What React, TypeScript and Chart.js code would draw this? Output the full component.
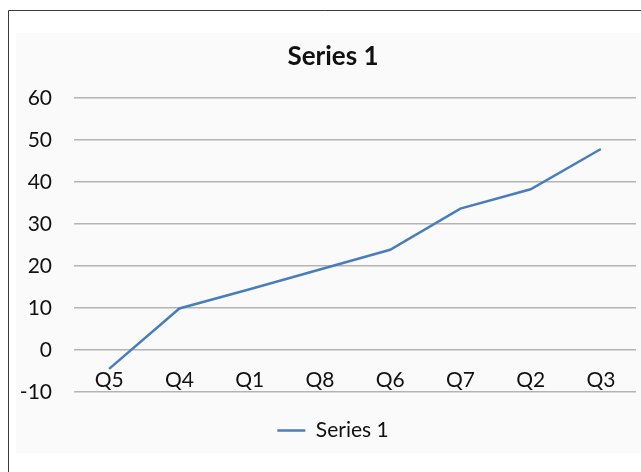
import React, { useEffect, useRef } from "react";
import { Chart, registerables } from "chart.js";

Chart.register(...registerables);

const categories = ["Q5", "Q4", "Q1", "Q8", "Q6", "Q7", "Q2", "Q3"];
const series1 = [-4.5, 9.9, 14.5, 19.2, 23.9, 33.7, 38.3, 47.9];
const seriesName = "Series 1";
const titleText = "Series 1";
const yMin = -10;
const yMax = 60;
const yStep = 10;

const FONT = "Lato, 'Open Sans', sans-serif";

const framePlugin = {
  id: "frame",
  beforeDraw(chart: any) {
    const ctx = chart.ctx;
    const w = chart.width;
    const h = chart.height;
    ctx.save();
    ctx.fillStyle = "#ffffff";
    ctx.fillRect(0, 0, w, h);
    ctx.fillStyle = "#fafafa";
    ctx.fillRect(16, 33, w - 16, 420);
    ctx.strokeStyle = "#3a3a3a";
    ctx.lineWidth = 1;
    ctx.beginPath();
    ctx.moveTo(8.5, h);
    ctx.lineTo(8.5, 10.5);
    ctx.lineTo(w, 10.5);
    ctx.stroke();
    ctx.restore();
  },
};

export default function App() {
  const ref = useRef<HTMLCanvasElement | null>(null);
  useEffect(() => {
    document.body.style.margin = "0";
    const c = ref.current;
    if (!c) return;
    const chart = new Chart(c, {
      type: "line",
      data: {
        labels: categories,
        datasets: [
          {
            label: seriesName,
            data: series1,
            borderColor: "#4a7ebb",
            backgroundColor: "#4a7ebb",
            borderWidth: 2.5,
            pointRadius: 0,
            tension: 0,
          },
        ],
      },
      options: {
        animation: false,
        responsive: false,
        devicePixelRatio: 1,
        layout: { padding: { left: 8, right: -17, top: 30, bottom: 21 } },
        plugins: {
          title: {
            display: true,
            text: titleText,
            color: "#111111",
            font: { family: FONT, size: 26, weight: "bold" },
            padding: { top: 11, bottom: 26 },
          },
          legend: {
            display: true,
            position: "bottom",
            labels: {
              usePointStyle: true,
              pointStyle: "line",
              pointStyleWidth: 28,
              color: "#111111",
              font: { family: FONT, size: 21 },
              padding: 28,
            },
          },
          tooltip: { enabled: false },
        },
        scales: {
          x: {
            type: "category",
            position: { y: 0 },
            offset: true,
            grid: { display: false, drawTicks: false },
            border: { display: false },
            ticks: {
              color: "#111111",
              font: { family: FONT, size: 21 },
              padding: 18,
              maxRotation: 0,
              autoSkip: false,
            },
          },
          y: {
            min: yMin,
            max: yMax,
            ticks: {
              stepSize: yStep,
              color: "#111111",
              font: { family: FONT, size: 21 },
              padding: 22,
            },
            grid: { color: "#b4b4b4", lineWidth: 1.5, drawTicks: false },
            border: { display: false },
            afterFit(scale: any) {
              scale.width = 66;
            },
          },
          yRight: {
            type: "linear",
            position: "right",
            display: true,
            ticks: { display: false },
            grid: { display: false, drawTicks: false },
            border: { display: false },
            afterFit(scale: any) {
              scale.width = 22;
            },
          },
        },
      },
      plugins: [framePlugin],
    });
    return () => chart.destroy();
  }, []);
  return (
    <div style={{ position: "absolute", left: 0, top: 0, width: 641, height: 472 }}>
      <canvas ref={ref} width={641} height={472} style={{ display: "block" }} />
    </div>
  );
}
